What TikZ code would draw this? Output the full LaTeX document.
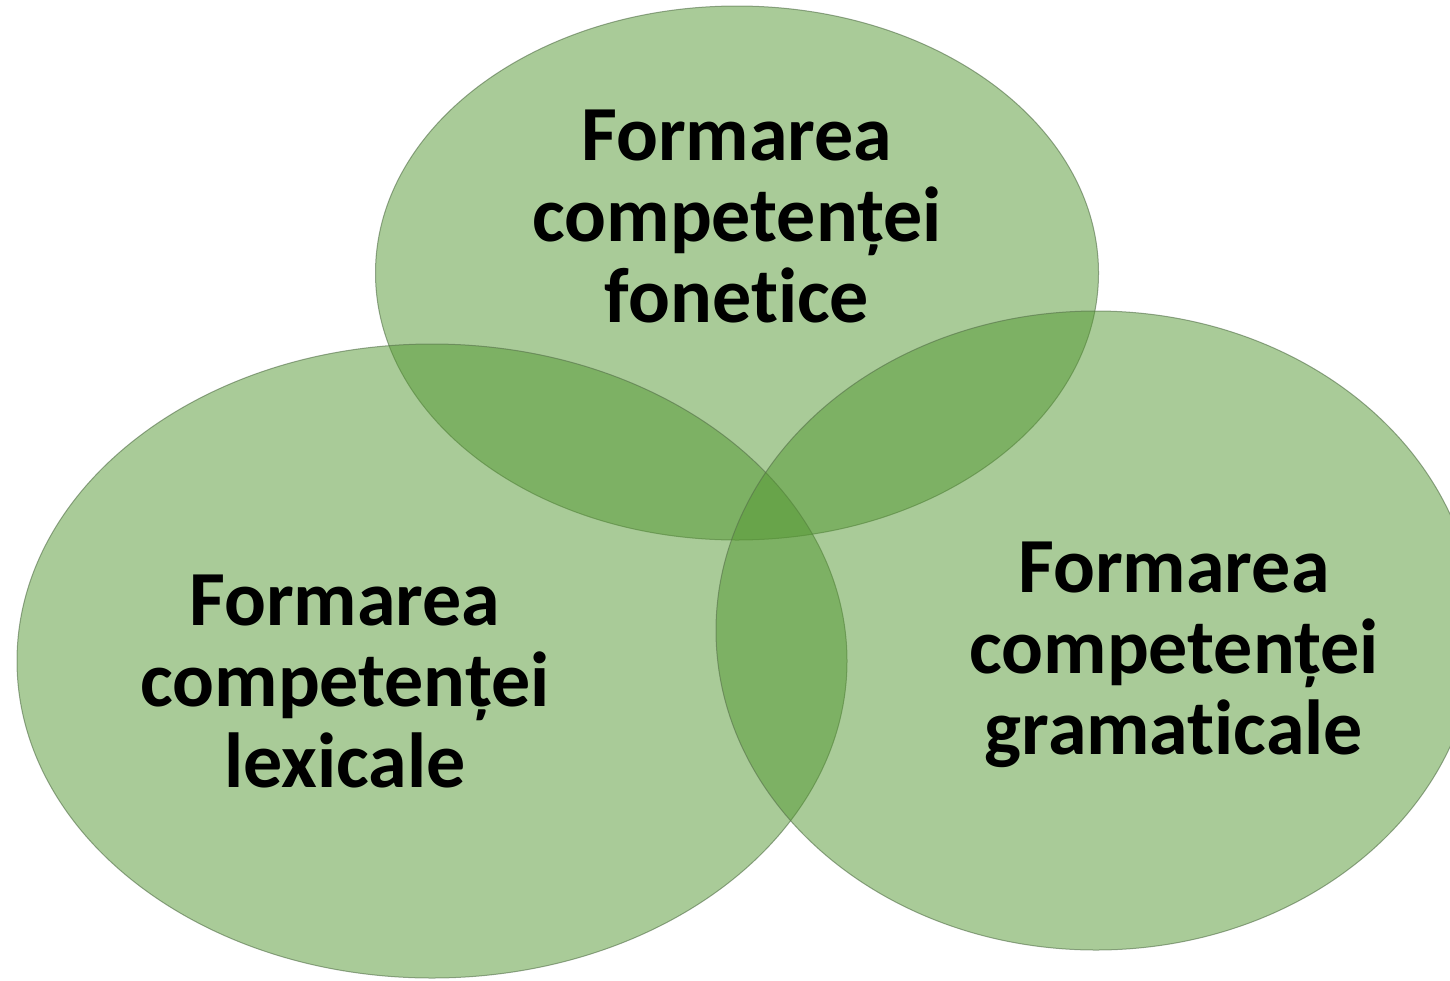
\documentclass[tikz,border=0pt]{standalone}
\usepackage{fontspec}
\setmainfont{Carlito}[Ligatures=CommonOff]
\usepackage{tikz}
\usetikzlibrary{shapes.geometric}
\definecolor{leafgreen}{HTML}{539731}
\definecolor{rimgreen}{HTML}{55714A}
\begin{document}
\begin{tikzpicture}[x=0.5pt,y=-0.5pt]
	\useasboundingbox (0,0) rectangle (1450,980);
	\tikzstyle{every node}=[shape=ellipse,inner sep=0pt,fill=leafgreen,fill opacity=0.5,draw=rimgreen,draw opacity=0.6,line width=0.5pt];
	\node[minimum width=361.5pt,minimum height=267pt] (fon) at (737,273) {};
	\node[minimum width=415pt,minimum height=317pt] (lex) at (432,661) {};
	\node[minimum width=380pt,minimum height=319.5pt] (gram) at (1096,630.5) {};
	\tikzstyle{every node}=[align=center,inner sep=0pt,text=black,font=\fontsize{39pt}{40.5pt}\selectfont\bfseries];
	\node (tfon) at (737,216) {Formarea\\competenței\\fonetice};
	\node (tlex) at (345,681.5) {Formarea\\competenței\\lexicale};
	\node (tgram) at (1174,654.5) {Formarea\\competenței\\gramaticale};
\end{tikzpicture}
\end{document}
